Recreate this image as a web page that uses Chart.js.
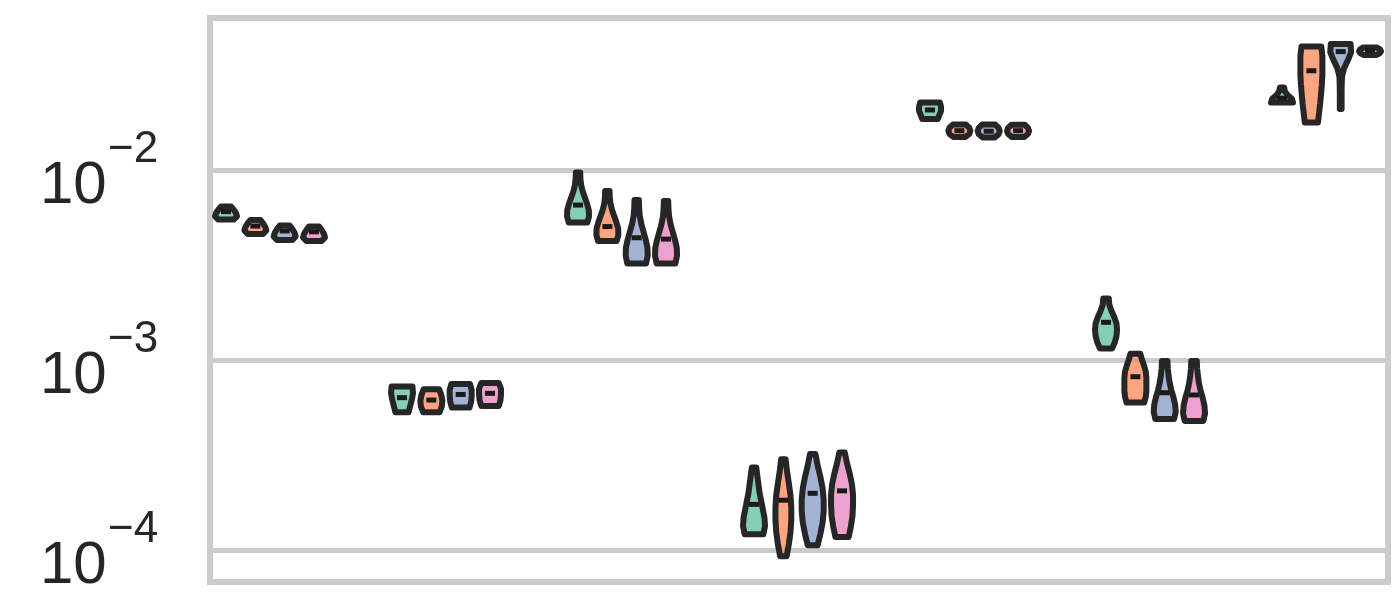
<!DOCTYPE html>
<html>
<head>
<meta charset="utf-8">
<script src="https://cdn.jsdelivr.net/npm/chart.js@4/dist/chart.umd.min.js"></script>
<style>
  html, body { margin: 0; padding: 0; background: #ffffff; }
  #c { display: block; }
</style>
</head>
<body>
<canvas id="c" width="1400" height="600"></canvas>
<script>
// ---------------- DATA ----------------
const groups = [0, 1, 2, 3, 4, 5, 6];
const hueNames = ['A', 'B', 'C', 'D'];
const yTickExponents = [-4, -3, -2];

// green series
const greenHigh   = [0.00643, 0.000726, 0.00970, 0.000272, 0.02265, 0.00211, 0.02716];
const greenLow    = [0.00549, 0.000532, 0.00529, 0.000121, 0.01853, 0.00115, 0.02265];
const greenMedian = [0.00604, 0.000634, 0.00654, 0.000174, 0.0207, 0.00158, 0.0239];
const greenShape  = [
  [0.7, 1.0, 0.9, 0.7, 0.45],
  [0.6, 0.75, 0.9, 1.0, 0.95],
  [0.85, 1.0, 0.98, 0.82, 0.62, 0.42, 0.28, 0.22, 0.2],
  [0.85, 1.0, 0.95, 0.8, 0.65, 0.5, 0.4, 0.3, 0.2],
  [0.7, 0.85, 1.0, 1.0, 0.9],
  [0.55, 0.8, 0.95, 1.0, 0.95, 0.75, 0.5, 0.3, 0.25],
  [1.0, 0.9, 0.5, 0.25, 0.2]
];
// orange series
const orangeHigh   = [0.00546, 0.000703, 0.00775, 0.000301, 0.01734, 0.00108, 0.04467];
const orangeLow    = [0.00461, 0.000532, 0.00423, 0.0000929, 0.01492, 0.000597, 0.01778];
const orangeMedian = [0.00507, 0.000616, 0.00504, 0.000183, 0.0161, 0.000817, 0.0333];
const orangeShape  = [
  [0.7, 1.0, 0.9, 0.7, 0.45],
  [0.75, 0.95, 1.0, 0.9, 0.7],
  [0.85, 1.0, 0.98, 0.82, 0.62, 0.42, 0.28, 0.22, 0.2],
  [0.3, 0.5, 0.65, 0.72, 0.72, 0.65, 0.5, 0.33, 0.2],
  [0.55, 0.9, 1.0, 0.9, 0.6],
  [0.8, 0.95, 1.0, 1.0, 1.0, 0.95, 0.8, 0.6, 0.45],
  [0.6, 0.7, 0.8, 0.88, 0.95, 1.0, 1.0, 1.0, 0.9]
];
// blue series
const blueHigh   = [0.00511, 0.000748, 0.00695, 0.000320, 0.01734, 0.000989, 0.04603];
const blueLow    = [0.00428, 0.000562, 0.00322, 0.000106, 0.01485, 0.000489, 0.02094];
const blueMedian = [0.00478, 0.000659, 0.00440, 0.000199, 0.0160, 0.000673, 0.0420];
const blueShape  = [
  [0.7, 1.0, 0.9, 0.7, 0.45],
  [0.8, 0.95, 1.0, 1.0, 0.85],
  [0.85, 1.0, 0.98, 0.82, 0.62, 0.42, 0.28, 0.22, 0.2],
  [0.45, 0.7, 0.9, 1.0, 1.0, 0.9, 0.7, 0.45, 0.25],
  [0.55, 0.9, 1.0, 0.9, 0.6],
  [0.85, 1.0, 0.95, 0.8, 0.6, 0.45, 0.35, 0.28, 0.25],
  [0.08, 0.08, 0.08, 0.09, 0.12, 0.3, 0.65, 0.95, 0.9]
];
// pink series
const pinkHigh   = [0.00505, 0.000757, 0.00687, 0.000326, 0.0173, 0.000989, 0.04416];
const pinkLow    = [0.00423, 0.000573, 0.00322, 0.000117, 0.0149, 0.000478, 0.04030];
const pinkMedian = [0.00473, 0.000668, 0.00433, 0.000205, 0.0161, 0.000655, 0.0425];
const pinkShape  = [
  [0.7, 1.0, 0.9, 0.7, 0.45],
  [0.8, 0.95, 1.0, 1.0, 0.8],
  [0.85, 1.0, 0.98, 0.82, 0.62, 0.42, 0.28, 0.22, 0.2],
  [0.6, 0.8, 0.95, 1.0, 1.0, 0.9, 0.7, 0.45, 0.25],
  [0.55, 0.9, 1.0, 0.9, 0.6],
  [0.85, 1.0, 0.95, 0.8, 0.6, 0.45, 0.35, 0.28, 0.25],
  [0.6, 0.9, 1.0, 0.9, 0.6]
];

// ---------------- STYLE ----------------
const hueColors = ['rgba(102,194,165,0.8)', 'rgba(252,141,98,0.8)', 'rgba(141,160,203,0.8)', 'rgba(231,138,195,0.8)'];
const hueOffsets = [-0.25, -0.0833, 0.0833, 0.25];
const maxHalfWidth = 0.0625;   // in x units
const edgeColor = '#262626';
const gridColor = '#cccccc';

const series = [
  { high: greenHigh,  low: greenLow,  median: greenMedian,  shape: greenShape },
  { high: orangeHigh, low: orangeLow, median: orangeMedian, shape: orangeShape },
  { high: blueHigh,   low: blueLow,   median: blueMedian,   shape: blueShape },
  { high: pinkHigh,   low: pinkLow,   median: pinkMedian,   shape: pinkShape }
];

const datasets = series.map((s, h) => ({
  label: hueNames[h],
  data: groups.map((g, i) => ({ x: g + hueOffsets[h], y: s.median[i] })),
  violinLow: s.low,
  violinHigh: s.high,
  violinShape: s.shape,
  violinColor: hueColors[h],
  pointRadius: 0,
  showLine: false
}));

const violinPlugin = {
  id: 'violins',
  afterDatasetsDraw(chart) {
    const ctx = chart.ctx;
    const xs = chart.scales.x, ys = chart.scales.y;
    const area = chart.chartArea;
    // frame
    ctx.save();
    ctx.strokeStyle = gridColor;
    ctx.lineWidth = 6;
    ctx.strokeRect(area.left, area.top, area.right - area.left, area.bottom - area.top);
    ctx.restore();

    chart.data.datasets.forEach((ds) => {
      ds.data.forEach((pt, i) => {
        const lo = Math.log10(ds.violinLow[i]);
        const hi = Math.log10(ds.violinHigh[i]);
        const prof = ds.violinShape[i];
        const n = prof.length;
        const xc = xs.getPixelForValue(pt.x);
        const right = [], left = [];
        for (let k = 0; k < n; k++) {
          const t = k / (n - 1);
          const v = Math.pow(10, lo + t * (hi - lo));
          const yp = ys.getPixelForValue(v);
          const xr = xs.getPixelForValue(pt.x + prof[k] * maxHalfWidth);
          const xl = xs.getPixelForValue(pt.x - prof[k] * maxHalfWidth);
          right.push([xr, yp]);
          left.push([xl, yp]);
        }
        ctx.save();
        ctx.beginPath();
        right.forEach((p, k) => k === 0 ? ctx.moveTo(p[0], p[1]) : ctx.lineTo(p[0], p[1]));
        for (let k = n - 1; k >= 0; k--) ctx.lineTo(left[k][0], left[k][1]);
        ctx.closePath();
        ctx.fillStyle = ds.violinColor;
        ctx.fill();
        ctx.lineWidth = 6;
        ctx.lineJoin = 'round';
        ctx.strokeStyle = edgeColor;
        ctx.stroke();
        // median mark
        const ym = ys.getPixelForValue(pt.y);
        ctx.fillStyle = '#1a1a1a';
        ctx.fillRect(xc - 5, ym - 2.5, 10, 5);
        ctx.restore();
      });
    });
  },
  afterDraw(chart) {
    const ctx = chart.ctx;
    const ys = chart.scales.y;
    ctx.save();
    ctx.fillStyle = '#262626';
    ctx.textAlign = 'left';
    ctx.textBaseline = 'alphabetic';
    yTickExponents.forEach((e) => {
      const y = ys.getPixelForValue(Math.pow(10, e));
      ctx.font = '60px "Liberation Sans", Arial, sans-serif';
      ctx.fillText('10', 40, y + 33);
      ctx.font = '44px "Liberation Sans", Arial, sans-serif';
      ctx.fillText('\u2212' + Math.abs(e), 108, y - 8);
    });
    ctx.restore();
  }
};

new Chart(document.getElementById('c'), {
  type: 'scatter',
  data: { datasets },
  options: {
    responsive: false,
    animation: false,
    events: [],
    layout: { padding: { left: 0, top: 18, right: 12, bottom: 18 } },
    plugins: { legend: { display: false }, tooltip: { enabled: false } },
    scales: {
      x: {
        type: 'linear',
        min: -0.341,
        max: 6.352,
        display: false
      },
      y: {
        type: 'logarithmic',
        min: Math.pow(10, -4.168),
        max: Math.pow(10, -1.2),
        afterBuildTicks(scale) {
          scale.ticks = yTickExponents.map(e => ({ value: Math.pow(10, e) }));
        },
        afterFit(scale) { scale.width = 210; },
        ticks: { display: false },
        border: { display: false },
        grid: { color: gridColor, lineWidth: 5, drawTicks: false }
      }
    }
  },
  plugins: [violinPlugin]
});
</script>
</body>
</html>
